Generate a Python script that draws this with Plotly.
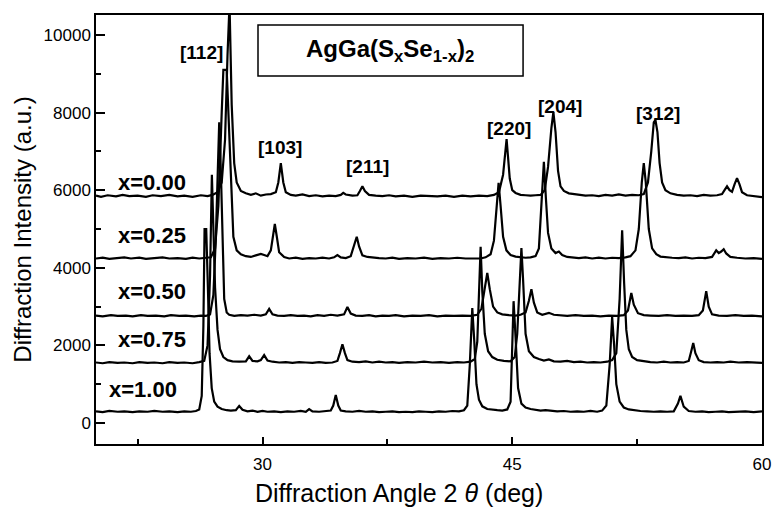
import plotly.graph_objects as go

# ---------------- data ----------------
series_names = ["x=0.00", "x=0.25", "x=0.50", "x=0.75", "x=1.00"]

x_000 = [20.0, 20.3, 20.7, 21.2, 21.6, 22.0, 22.5, 23.0, 23.4, 23.9, 24.4, 24.9, 25.3, 25.8, 26.3, 26.7, 27.0, 27.3, 27.55, 27.75, 27.9, 28.02, 28.15, 28.3, 28.45, 28.7, 29.0, 29.3, 29.6, 29.9, 30.2, 30.5, 30.8, 30.95, 31.1, 31.25, 31.4, 31.7, 32.0, 32.4, 32.8, 33.2, 33.6, 34.0, 34.4, 34.7, 34.85, 35.0, 35.4, 35.7, 35.85, 36.0, 36.15, 36.4, 36.8, 37.2, 37.6, 38.0, 38.5, 39.0, 39.5, 40.0, 40.5, 41.0, 41.5, 42.0, 42.5, 43.0, 43.5, 43.9, 44.2, 44.45, 44.66, 44.85, 45.0, 45.2, 45.5, 45.8, 46.1, 46.4, 46.7, 46.95, 47.15, 47.35, 47.47, 47.6, 47.75, 47.9, 48.1, 48.4, 48.7, 49.0, 49.4, 49.8, 50.2, 50.6, 51.0, 51.4, 51.8, 52.2, 52.6, 52.9, 53.15, 53.35, 53.5, 53.6, 53.72, 53.85, 54.0, 54.2, 54.5, 54.9, 55.3, 55.7, 56.1, 56.5, 56.9, 57.3, 57.6, 57.75, 57.9, 58.05, 58.2, 58.35, 58.5, 58.65, 58.8, 59.1, 59.5, 60.0]
y_000 = [5860, 5830, 5870, 5840, 5880, 5850, 5860, 5830, 5870, 5850, 5880, 5840, 5860, 5830, 5870, 5850, 5880, 5950, 6200, 7300, 9500, 10800, 8200, 6700, 6200, 5980, 5920, 5880, 5920, 5860, 5890, 5900, 5950, 6200, 6700, 6200, 5950, 5880, 5860, 5890, 5850, 5870, 5840, 5860, 5850, 5880, 5930, 5890, 5860, 5870, 5980, 6100, 5980, 5880, 5860, 5850, 5870, 5840, 5860, 5830, 5860, 5850, 5840, 5860, 5830, 5860, 5840, 5860, 5850, 5880, 5950, 6400, 7320, 6300, 6000, 5930, 5880, 5870, 5860, 5870, 5880, 6000, 6600, 7600, 8015, 7500, 6500, 6100, 5980, 5920, 5900, 5880, 5860, 5870, 5850, 5880, 5860, 5890, 5860, 5880, 5870, 5900, 6200, 7000, 7750, 7810, 7500, 6700, 6200, 6000, 5920, 5880, 5860, 5870, 5850, 5880, 5860, 5870, 5900, 6000, 6100, 6000, 5960, 6150, 6310, 6150, 5950, 5870, 5850, 5820]

x_025 = [20.0, 20.4, 20.8, 21.3, 21.7, 22.1, 22.6, 23.0, 23.5, 24.0, 24.4, 24.9, 25.4, 25.8, 26.2, 26.6, 26.9, 27.15, 27.35, 27.55, 27.65, 27.85, 27.95, 28.1, 28.25, 28.45, 28.7, 29.0, 29.3, 29.6, 29.9, 30.1, 30.3, 30.5, 30.62, 30.74, 30.86, 31.0, 31.3, 31.6, 32.0, 32.4, 32.8, 33.2, 33.6, 34.0, 34.3, 34.5, 34.7, 35.0, 35.3, 35.5, 35.66, 35.8, 36.0, 36.3, 36.6, 37.0, 37.4, 37.8, 38.2, 38.7, 39.2, 39.7, 40.2, 40.7, 41.2, 41.7, 42.2, 42.7, 43.1, 43.4, 43.7, 43.9, 44.05, 44.18, 44.3, 44.45, 44.65, 44.9, 45.2, 45.5, 45.8, 46.1, 46.4, 46.6, 46.75, 46.9, 47.02, 47.15, 47.35, 47.6, 47.8, 48.0, 48.3, 48.6, 49.0, 49.4, 49.8, 50.2, 50.6, 51.0, 51.4, 51.8, 52.1, 52.4, 52.6, 52.78, 52.9, 53.02, 53.2, 53.4, 53.65, 53.9, 54.2, 54.6, 55.0, 55.4, 55.8, 56.2, 56.6, 57.0, 57.25, 57.4, 57.55, 57.7, 57.85, 58.1, 58.5, 59.0, 59.5, 60.0]
y_025 = [4240, 4260, 4230, 4250, 4270, 4240, 4260, 4230, 4250, 4270, 4240, 4250, 4230, 4260, 4240, 4250, 4270, 4500, 5600, 8000, 9100, 9100, 8000, 6000, 4800, 4450, 4350, 4300, 4280, 4320, 4360, 4330, 4300, 4450, 4850, 5130, 4800, 4400, 4280, 4240, 4260, 4230, 4250, 4240, 4260, 4240, 4270, 4330, 4270, 4250, 4300, 4550, 4800, 4550, 4320, 4280, 4260, 4250, 4240, 4260, 4230, 4250, 4240, 4260, 4230, 4250, 4240, 4260, 4240, 4250, 4240, 4270, 4350, 4700, 5500, 6190, 5600, 4800, 4450, 4330, 4290, 4270, 4260, 4270, 4300, 4500, 5500, 6730, 5800, 4900, 4500, 4380, 4420, 4330, 4280, 4260, 4250, 4270, 4240, 4260, 4240, 4260, 4250, 4270, 4300, 4450, 5000, 6200, 6700, 6200, 5000, 4500, 4350, 4290, 4270, 4260, 4250, 4270, 4240, 4260, 4250, 4280, 4450, 4380, 4420, 4480, 4370, 4280, 4260, 4240, 4250, 4230]

x_050 = [20.0, 20.4, 20.9, 21.3, 21.8, 22.2, 22.7, 23.1, 23.6, 24.1, 24.5, 25.0, 25.4, 25.9, 26.3, 26.6, 26.85, 27.05, 27.2, 27.32, 27.4, 27.5, 27.6, 27.7, 27.85, 28.0, 28.3, 28.7, 29.1, 29.5, 29.9, 30.2, 30.4, 30.6, 30.9, 31.3, 31.7, 32.1, 32.5, 32.9, 33.3, 33.7, 34.1, 34.5, 34.9, 35.1, 35.3, 35.6, 36.0, 36.4, 36.8, 37.2, 37.6, 38.0, 38.5, 39.0, 39.5, 40.0, 40.5, 41.0, 41.5, 42.0, 42.5, 42.9, 43.15, 43.35, 43.5, 43.65, 43.85, 44.1, 44.4, 44.8, 45.2, 45.5, 45.8, 46.0, 46.15, 46.3, 46.5, 46.8, 47.2, 47.5, 47.9, 48.3, 48.8, 49.3, 49.8, 50.3, 50.8, 51.3, 51.7, 51.95, 52.15, 52.3, 52.55, 52.9, 53.3, 53.8, 54.3, 54.8, 55.3, 55.8, 56.2, 56.45, 56.65, 56.8, 57.0, 57.4, 57.9, 58.4, 58.9, 59.4, 60.0]
y_050 = [2770, 2750, 2780, 2760, 2770, 2750, 2780, 2760, 2770, 2750, 2780, 2760, 2770, 2750, 2770, 2760, 2800, 3300, 4800, 6800, 7750, 6500, 4500, 3200, 2850, 2790, 2760, 2780, 2770, 2790, 2770, 2800, 2940, 2800, 2770, 2760, 2780, 2760, 2770, 2750, 2780, 2760, 2790, 2770, 2800, 2990, 2820, 2770, 2760, 2780, 2750, 2770, 2760, 2780, 2750, 2770, 2760, 2780, 2750, 2770, 2760, 2770, 2760, 2790, 2950, 3500, 3870, 3450, 3000, 2850, 2800, 2780, 2770, 2790, 2850, 3150, 3450, 3100, 2850, 2790, 2840, 2790, 2770, 2760, 2780, 2760, 2770, 2750, 2770, 2760, 2780, 2900, 3350, 3050, 2830, 2780, 2770, 2760, 2780, 2760, 2770, 2760, 2780, 2900, 3400, 3000, 2800, 2770, 2760, 2780, 2760, 2770, 2750]

x_075 = [20.0, 20.4, 20.8, 21.3, 21.7, 22.2, 22.6, 23.1, 23.5, 24.0, 24.4, 24.9, 25.3, 25.8, 26.2, 26.5, 26.7, 26.85, 26.96, 27.05, 27.15, 27.3, 27.45, 27.65, 27.9, 28.2, 28.6, 29.0, 29.2, 29.4, 29.7, 29.9, 30.1, 30.3, 30.6, 31.0, 31.4, 31.8, 32.2, 32.6, 33.0, 33.4, 33.8, 34.2, 34.5, 34.65, 34.8, 34.95, 35.1, 35.4, 35.8, 36.2, 36.6, 37.0, 37.4, 37.8, 38.2, 38.7, 39.2, 39.7, 40.2, 40.7, 41.2, 41.7, 42.1, 42.5, 42.75, 42.9, 43.0, 43.1, 43.2, 43.35, 43.55, 43.8, 44.1, 44.5, 44.9, 45.15, 45.3, 45.45, 45.55, 45.65, 45.8, 46.0, 46.3, 46.6, 46.9, 47.2, 47.5, 47.9, 48.3, 48.7, 49.1, 49.5, 49.9, 50.3, 50.7, 51.0, 51.25, 51.45, 51.6, 51.72, 51.85, 52.0, 52.2, 52.5, 52.9, 53.3, 53.7, 54.1, 54.5, 54.9, 55.3, 55.6, 55.75, 55.87, 56.0, 56.2, 56.5, 56.9, 57.3, 57.7, 58.1, 58.6, 59.1, 59.6, 60.0]
y_075 = [1560, 1540, 1570, 1550, 1560, 1540, 1570, 1550, 1560, 1540, 1570, 1550, 1560, 1540, 1570, 1600, 2000, 3800, 6400, 5200, 3500, 2400, 1900, 1700, 1620, 1590, 1580, 1590, 1720, 1600, 1590, 1620, 1750, 1610, 1580, 1560, 1570, 1550, 1570, 1560, 1550, 1570, 1550, 1560, 1600, 1800, 2030, 1800, 1620, 1580, 1570, 1590, 1560, 1580, 1560, 1570, 1550, 1570, 1560, 1580, 1560, 1570, 1550, 1570, 1560, 1580, 1650, 2100, 3500, 4540, 3400, 2300, 1850, 1700, 1630, 1600, 1590, 1700, 2300, 3800, 4510, 3700, 2300, 1850, 1700, 1650, 1610, 1640, 1590, 1580, 1600, 1570, 1580, 1560, 1570, 1560, 1580, 1620, 1800, 3200, 4970, 3600, 2400, 1900, 1700, 1620, 1590, 1570, 1560, 1580, 1560, 1570, 1560, 1600, 1850, 2060, 1800, 1620, 1570, 1560, 1570, 1560, 1580, 1560, 1570, 1560, 1550]

x_100 = [20.0, 20.4, 20.8, 21.3, 21.7, 22.2, 22.6, 23.1, 23.5, 24.0, 24.4, 24.9, 25.3, 25.7, 26.0, 26.2, 26.35, 26.45, 26.52, 26.62, 26.72, 26.82, 26.95, 27.1, 27.3, 27.55, 27.85, 28.1, 28.4, 28.6, 28.8, 29.1, 29.4, 29.7, 30.0, 30.3, 30.7, 31.1, 31.5, 31.9, 32.3, 32.6, 32.8, 33.0, 33.4, 33.8, 34.1, 34.25, 34.4, 34.55, 34.7, 35.0, 35.4, 35.8, 36.2, 36.6, 37.0, 37.4, 37.8, 38.2, 38.6, 39.0, 39.4, 39.8, 40.2, 40.6, 41.0, 41.4, 41.8, 42.1, 42.3, 42.45, 42.6, 42.72, 42.85, 43.0, 43.2, 43.5, 43.8, 44.1, 44.4, 44.7, 44.9, 45.0, 45.08, 45.2, 45.35, 45.55, 45.8, 46.1, 46.4, 46.7, 47.0, 47.3, 47.7, 48.1, 48.5, 48.9, 49.3, 49.7, 50.1, 50.4, 50.65, 50.85, 51.0, 51.12, 51.25, 51.45, 51.7, 52.0, 52.3, 52.7, 53.1, 53.5, 53.9, 54.3, 54.7, 54.95, 55.1, 55.3, 55.6, 56.0, 56.4, 56.8, 57.2, 57.6, 58.0, 58.5, 59.0, 59.5, 60.0]
y_100 = [300, 280, 310, 290, 300, 280, 300, 290, 310, 290, 300, 280, 300, 290, 310, 350, 700, 2500, 5000, 5000, 3500, 1800, 900, 550, 420, 360, 330, 320, 330, 440, 340, 300, 320, 290, 310, 290, 300, 280, 300, 290, 310, 290, 360, 300, 290, 300, 320, 450, 720, 450, 320, 300, 290, 310, 290, 300, 280, 290, 300, 280, 290, 280, 300, 290, 280, 300, 290, 310, 300, 330, 450, 1500, 2960, 2100, 1000, 600, 430, 360, 340, 330, 320, 350, 550, 1800, 3140, 2200, 900, 500, 400, 360, 340, 320, 330, 310, 300, 310, 290, 300, 290, 310, 290, 320, 450, 1500, 2730, 2000, 1000, 550, 400, 350, 330, 310, 300, 290, 300, 290, 300, 500, 700, 420, 310, 290, 300, 280, 290, 300, 280, 290, 300, 280, 300]

series_x = [x_000, x_025, x_050, x_075, x_100]
series_y = [y_000, y_025, y_050, y_075, y_100]

peak_labels = ["[112]", "[103]", "[211]", "[220]", "[204]", "[312]"]
peak_label_x = [26.31, 31.05, 36.28, 44.80, 47.87, 53.75]
peak_label_y = [9560, 7110, 6600, 7600, 8170, 7990]

series_label_x = [23.36, 23.36, 23.36, 23.36, 22.82]
series_label_y = [6190, 4845, 3400, 2140, 876]

title_text = "<b>AgGa(S<sub>x</sub>Se<sub>1-x</sub>)<sub>2</sub></b>"
x_title = "Diffraction Angle 2 <i>θ</i> (deg)"
y_title = "Diffraction Intensity (a.u.)"

x_tickvals = [30, 45, 60]
x_ticktext = ["30", "45", "60"]
y_tickvals = [0, 2000, 4000, 6000, 8000, 10000]
y_ticktext = ["0", "2000", "4000", "6000", "8000", "10000"]

# ---------------- figure ----------------
FONT = "Arial, Liberation Sans, sans-serif"
fig = go.Figure()
for xs, ys, nm in zip(series_x, series_y, series_names):
    fig.add_trace(go.Scatter(x=xs, y=ys, mode="lines", name=nm,
                             line=dict(color="black", width=2.2), showlegend=False))

annotations = []
for t, xx, yy in zip(series_names, series_label_x, series_label_y):
    annotations.append(dict(x=xx, y=yy, xref="x", yref="y", text="<b>%s</b>" % t,
                            showarrow=False, font=dict(family=FONT, size=22, color="black")))
for t, xx, yy in zip(peak_labels, peak_label_x, peak_label_y):
    annotations.append(dict(x=xx, y=yy, xref="x", yref="y", text="<b>%s</b>" % t,
                            showarrow=False, font=dict(family=FONT, size=19, color="black")))
annotations.append(dict(x=37.66, y=9600, xref="x", yref="y", text=title_text,
                        showarrow=False, font=dict(family=FONT, size=24, color="black")))
# x-axis title (placed as in the reference, slightly left of centre)
annotations.append(dict(x=0.2357, y=-0.114, xref="paper", yref="paper", xanchor="left", yanchor="middle",
                        text=x_title, showarrow=False, font=dict(family=FONT, size=25, color="black")))

fig.add_shape(type="rect", xref="x", yref="y", x0=29.73, x1=45.65, y0=8943, y1=10258,
              line=dict(color="black", width=1.5), fillcolor="rgba(0,0,0,0)")

fig.update_layout(
    width=773, height=509,
    margin=dict(l=96, r=11, t=15, b=65, autoexpand=False),
    paper_bgcolor="white", plot_bgcolor="white",
    font=dict(family=FONT, color="black"),
    annotations=annotations,
    showlegend=False,
)
fig.update_xaxes(
    range=[20, 60], tickvals=x_tickvals, ticktext=x_ticktext, ticks="inside", ticklen=7, tickwidth=1.5,
    tickcolor="black", showline=True, linecolor="black", linewidth=1.5, mirror=True,
    showgrid=False, zeroline=False, tickfont=dict(size=17, family=FONT), automargin=False,
    ticklabelstandoff=4,
    minor=dict(tickvals=[22.5, 37.5, 52.5], ticks="inside", ticklen=5, tickwidth=1.5, tickcolor="black"),
)
fig.update_yaxes(
    range=[-541, 10516], tickvals=y_tickvals, ticktext=y_ticktext, ticks="inside", ticklen=9, tickwidth=1.5,
    tickcolor="black", showline=True, linecolor="black", linewidth=1.5, mirror=True,
    showgrid=False, zeroline=False, tickfont=dict(size=17, family=FONT), automargin=False,
    minor=dict(tickvals=[1000, 3000, 5000, 7000, 9000], ticks="inside", ticklen=5, tickwidth=1.5, tickcolor="black"),
    title=dict(text=y_title, font=dict(size=24, family=FONT), standoff=5),
)

fig.write_html("out.html", config={"displayModeBar": False},
               post_script="document.body.style.margin='0';document.body.style.overflow='hidden';")
